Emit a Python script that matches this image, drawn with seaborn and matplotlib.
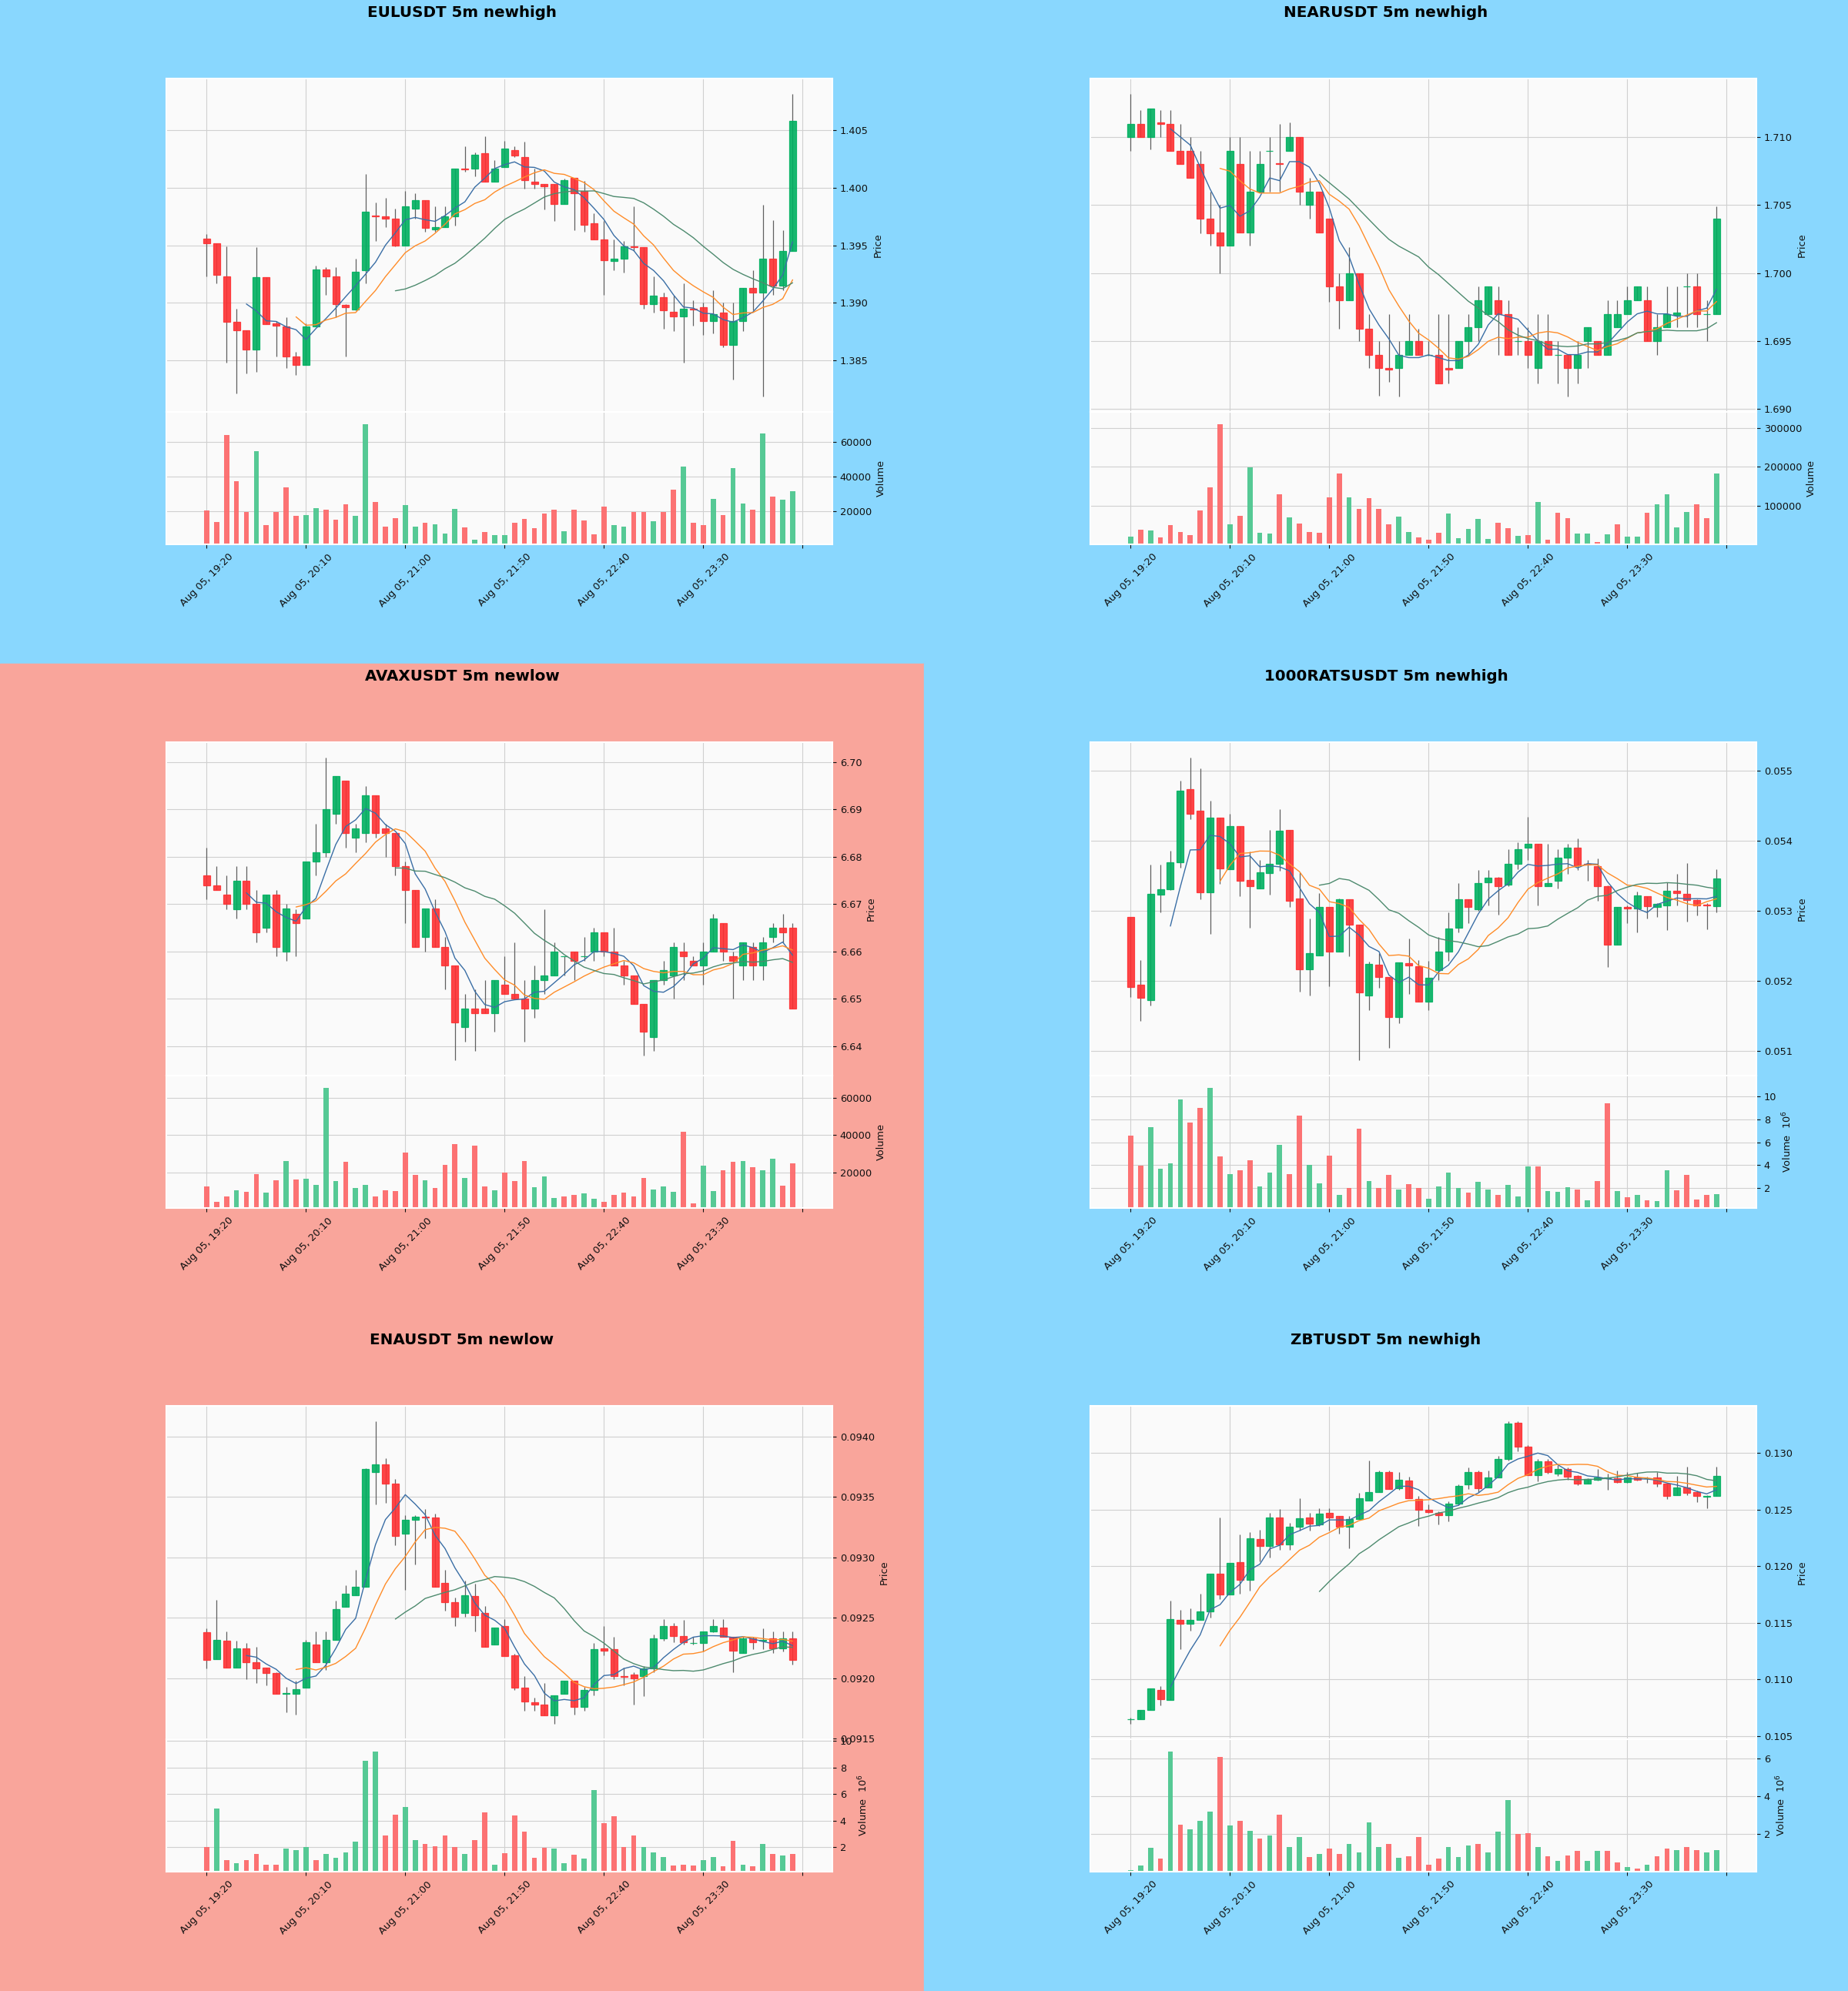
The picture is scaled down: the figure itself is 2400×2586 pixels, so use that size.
import matplotlib
matplotlib.use("Agg")
import numpy as np
import pandas as pd
import matplotlib.pyplot as plt
from matplotlib.patches import Rectangle
import seaborn as sns

# ---------------- data (5m candles, Aug 05 19:20 -> 00:15) ----------------
tick_labels = ['Aug 05, 19:20', 'Aug 05, 20:10', 'Aug 05, 21:00', 'Aug 05, 21:50',
               'Aug 05, 22:40', 'Aug 05, 23:30', '']

eul_open = [1.3956, 1.3952, 1.3923, 1.3883, 1.3876, 1.3859, 1.3922, 1.3882, 1.3879, 1.3853,
            1.3846, 1.3879, 1.3929, 1.3923, 1.3898, 1.3894, 1.3928, 1.3976, 1.3975, 1.3973,
            1.3950, 1.3982, 1.3989, 1.3964, 1.3966, 1.3975, 1.4017, 1.4017, 1.4030, 1.4005,
            1.4018, 1.4033, 1.4027, 1.4005, 1.4003, 1.4003, 1.3986, 1.4009, 1.3997, 1.3969,
            1.3955, 1.3936, 1.3938, 1.3949, 1.3948, 1.3899, 1.3905, 1.3892, 1.3888, 1.3895,
            1.3896, 1.3884, 1.3891, 1.3863, 1.3884, 1.3913, 1.3909, 1.3938, 1.3915, 1.3945]
eul_high = [1.3960, 1.3952, 1.3949, 1.3895, 1.3876, 1.3948, 1.3922, 1.3884, 1.3887, 1.3857,
            1.3882, 1.3932, 1.3931, 1.3931, 1.3899, 1.3938, 1.4012, 1.3987, 1.3991, 1.3982,
            1.3997, 1.3995, 1.3989, 1.3984, 1.3984, 1.4017, 1.4036, 1.4031, 1.4045, 1.4024,
            1.4041, 1.4036, 1.4040, 1.4017, 1.4003, 1.4003, 1.4008, 1.4009, 1.4006, 1.3978,
            1.3971, 1.3955, 1.3954, 1.3984, 1.3948, 1.3923, 1.3909, 1.3906, 1.3917, 1.3902,
            1.3900, 1.3911, 1.3900, 1.3900, 1.3913, 1.3928, 1.3985, 1.3972, 1.3963, 1.4082]
eul_low = [1.3923, 1.3917, 1.3848, 1.3821, 1.3838, 1.3840, 1.3881, 1.3853, 1.3843, 1.3837,
           1.3846, 1.3879, 1.3907, 1.3887, 1.3853, 1.3893, 1.3917, 1.3954, 1.3966, 1.3949,
           1.3950, 1.3973, 1.3962, 1.3962, 1.3966, 1.3967, 1.4014, 1.4010, 1.4005, 1.4005,
           1.4018, 1.4027, 1.3999, 1.3999, 1.3981, 1.3971, 1.3986, 1.3963, 1.3962, 1.3955,
           1.3907, 1.3928, 1.3926, 1.3945, 1.3895, 1.3891, 1.3877, 1.3875, 1.3848, 1.3880,
           1.3872, 1.3873, 1.3861, 1.3833, 1.3875, 1.3893, 1.3818, 1.3907, 1.3911, 1.3945]
eul_close = [1.3952, 1.3924, 1.3883, 1.3876, 1.3859, 1.3922, 1.3881, 1.3880, 1.3853, 1.3846,
             1.3879, 1.3929, 1.3923, 1.3899, 1.3896, 1.3927, 1.3979, 1.3975, 1.3973, 1.3950,
             1.3984, 1.3989, 1.3965, 1.3966, 1.3975, 1.4017, 1.4016, 1.4029, 1.4005, 1.4017,
             1.4034, 1.4028, 1.4007, 1.4003, 1.4001, 1.3986, 1.4007, 1.3995, 1.3968, 1.3955,
             1.3937, 1.3938, 1.3949, 1.3948, 1.3899, 1.3906, 1.3893, 1.3888, 1.3895, 1.3894,
             1.3884, 1.3890, 1.3863, 1.3884, 1.3913, 1.3909, 1.3938, 1.3915, 1.3945, 1.4058]
eul_volume = [20450, 13800, 64000, 37500, 19900, 54500, 12400, 19500, 33900, 17400,
              18100, 21700, 21000, 15100, 24200, 17400, 70100, 25300, 11500, 16300,
              23500, 11500, 13300, 12700, 7400, 21300, 10900, 3800, 8400, 6600,
              6600, 13300, 15600, 10600, 18700, 21000, 8800, 21000, 14700, 7000,
              22600, 12400, 11100, 19600, 19600, 14200, 19600, 32500, 45600, 13600,
              12000, 27300, 17800, 44700, 24400, 20800, 64800, 28500, 26700, 31600]

near_open = [1.7100, 1.7110, 1.7100, 1.7111, 1.7110, 1.7090, 1.7090, 1.7080, 1.7040, 1.7030,
             1.7020, 1.7080, 1.7030, 1.7060, 1.7090, 1.7081, 1.7090, 1.7100, 1.7050, 1.7060,
             1.7040, 1.6990, 1.6980, 1.7000, 1.6959, 1.6940, 1.6930, 1.6930, 1.6940, 1.6950,
             1.6940, 1.6940, 1.6930, 1.6930, 1.6950, 1.6960, 1.6970, 1.6980, 1.6970, 1.6950,
             1.6950, 1.6930, 1.6950, 1.6940, 1.6940, 1.6930, 1.6950, 1.6950, 1.6940, 1.6960,
             1.6970, 1.6980, 1.6980, 1.6950, 1.6960, 1.6969, 1.6990, 1.6990, 1.6970, 1.6970]
near_high = [1.7132, 1.7120, 1.7121, 1.7120, 1.7120, 1.7110, 1.7100, 1.7090, 1.7060, 1.7050,
             1.7100, 1.7100, 1.7090, 1.7090, 1.7100, 1.7110, 1.7111, 1.7100, 1.7070, 1.7060,
             1.7040, 1.7000, 1.7019, 1.7000, 1.6970, 1.6950, 1.6970, 1.6950, 1.6970, 1.6959,
             1.6950, 1.6970, 1.6970, 1.6950, 1.6970, 1.6990, 1.6990, 1.6990, 1.6980, 1.6960,
             1.6960, 1.6970, 1.6970, 1.6950, 1.6940, 1.6950, 1.6960, 1.6950, 1.6980, 1.6980,
             1.6990, 1.6990, 1.6990, 1.6970, 1.6990, 1.6990, 1.7000, 1.7000, 1.6980, 1.7049]
near_low = [1.7090, 1.7100, 1.7091, 1.7100, 1.7090, 1.7080, 1.7070, 1.7029, 1.7020, 1.7000,
            1.7020, 1.7030, 1.7020, 1.7060, 1.7060, 1.7060, 1.7090, 1.7050, 1.7040, 1.7030,
            1.6979, 1.6959, 1.6980, 1.6950, 1.6930, 1.6910, 1.6920, 1.6909, 1.6940, 1.6940,
            1.6939, 1.6919, 1.6919, 1.6930, 1.6940, 1.6950, 1.6970, 1.6940, 1.6940, 1.6940,
            1.6930, 1.6919, 1.6940, 1.6919, 1.6909, 1.6919, 1.6930, 1.6940, 1.6940, 1.6960,
            1.6970, 1.6980, 1.6950, 1.6940, 1.6960, 1.6960, 1.6960, 1.6960, 1.6950, 1.6970]
near_close = [1.7110, 1.7100, 1.7121, 1.7110, 1.7090, 1.7080, 1.7070, 1.7040, 1.7029, 1.7020,
              1.7090, 1.7030, 1.7060, 1.7080, 1.7090, 1.7080, 1.7100, 1.7060, 1.7060, 1.7030,
              1.6990, 1.6980, 1.7000, 1.6959, 1.6940, 1.6930, 1.6929, 1.6940, 1.6950, 1.6940,
              1.6940, 1.6919, 1.6929, 1.6950, 1.6960, 1.6980, 1.6990, 1.6970, 1.6940, 1.6950,
              1.6940, 1.6950, 1.6940, 1.6940, 1.6930, 1.6940, 1.6960, 1.6940, 1.6970, 1.6970,
              1.6980, 1.6990, 1.6950, 1.6960, 1.6970, 1.6971, 1.6990, 1.6970, 1.6970, 1.7040]
near_volume = [22400, 39200, 37600, 20000, 52000, 34400, 26400, 89600, 148000, 309600,
               54400, 76000, 198400, 31200, 29600, 130400, 70400, 56000, 34400, 32000,
               122400, 184000, 122400, 93600, 120000, 92000, 53600, 73600, 33600, 20000,
               13600, 32000, 81600, 18400, 41600, 68000, 16000, 57600, 44000, 24000,
               26400, 109600, 13600, 82400, 69600, 29600, 29600, 8000, 28000, 53600,
               21600, 21600, 82400, 104000, 130400, 46400, 84000, 105600, 69600, 182400]

avax_open = [6.676, 6.674, 6.672, 6.669, 6.675, 6.670, 6.665, 6.672, 6.660, 6.668,
             6.667, 6.679, 6.681, 6.689, 6.696, 6.684, 6.685, 6.693, 6.686, 6.685,
             6.678, 6.673, 6.663, 6.669, 6.661, 6.657, 6.644, 6.648, 6.648, 6.647,
             6.653, 6.651, 6.650, 6.648, 6.654, 6.655, 6.659, 6.660, 6.659, 6.660,
             6.664, 6.660, 6.657, 6.655, 6.649, 6.642, 6.654, 6.655, 6.660, 6.658,
             6.657, 6.660, 6.666, 6.659, 6.657, 6.661, 6.657, 6.663, 6.665, 6.665]
avax_high = [6.682, 6.678, 6.676, 6.678, 6.678, 6.673, 6.672, 6.673, 6.670, 6.669,
             6.679, 6.687, 6.701, 6.697, 6.696, 6.687, 6.695, 6.693, 6.687, 6.685,
             6.679, 6.673, 6.669, 6.671, 6.663, 6.657, 6.651, 6.652, 6.654, 6.654,
             6.659, 6.662, 6.654, 6.657, 6.669, 6.662, 6.659, 6.660, 6.663, 6.665,
             6.664, 6.665, 6.658, 6.655, 6.649, 6.654, 6.658, 6.662, 6.662, 6.659,
             6.662, 6.668, 6.666, 6.660, 6.662, 6.662, 6.663, 6.666, 6.668, 6.666]
avax_low = [6.671, 6.673, 6.669, 6.667, 6.669, 6.662, 6.664, 6.659, 6.658, 6.659,
            6.667, 6.676, 6.680, 6.687, 6.682, 6.681, 6.683, 6.684, 6.680, 6.676,
            6.666, 6.661, 6.660, 6.661, 6.652, 6.637, 6.641, 6.639, 6.647, 6.643,
            6.651, 6.650, 6.641, 6.646, 6.651, 6.655, 6.655, 6.654, 6.658, 6.658,
            6.659, 6.657, 6.653, 6.649, 6.638, 6.639, 6.653, 6.650, 6.654, 6.657,
            6.653, 6.660, 6.658, 6.650, 6.654, 6.654, 6.654, 6.662, 6.662, 6.648]
avax_close = [6.674, 6.673, 6.670, 6.675, 6.670, 6.664, 6.672, 6.661, 6.669, 6.666,
              6.679, 6.681, 6.690, 6.697, 6.685, 6.686, 6.693, 6.685, 6.685, 6.678,
              6.673, 6.661, 6.669, 6.661, 6.657, 6.645, 6.648, 6.647, 6.647, 6.654,
              6.651, 6.650, 6.648, 6.654, 6.655, 6.660, 6.659, 6.658, 6.659, 6.664,
              6.660, 6.657, 6.655, 6.649, 6.643, 6.654, 6.656, 6.661, 6.659, 6.657,
              6.660, 6.667, 6.660, 6.658, 6.662, 6.657, 6.662, 6.665, 6.664, 6.648]
avax_volume = [12500, 4200, 7200, 10500, 9700, 19200, 9300, 15800, 26000, 16300,
               16800, 13500, 65200, 15500, 25500, 11700, 13500, 7200, 10500, 10000,
               30800, 18500, 15800, 11700, 24200, 35000, 17200, 34200, 12500, 10500,
               20000, 15200, 26000, 12200, 18000, 6300, 7200, 8000, 8800, 5800,
               4200, 8000, 9200, 7200, 17200, 11000, 12500, 9700, 41700, 3300,
               23500, 10200, 21300, 25500, 26000, 22700, 21300, 27500, 13000, 24700]

rats_open = [0.052917, 0.051947, 0.051722, 0.053232, 0.053309, 0.053692, 0.054743, 0.054427, 0.053264, 0.054328,
             0.053593, 0.054211, 0.053444, 0.053323, 0.053539, 0.053670, 0.054157, 0.053174, 0.052164, 0.052367,
             0.053052, 0.052421, 0.053165, 0.052804, 0.051790, 0.052227, 0.052060, 0.051487, 0.052250, 0.052209,
             0.051699, 0.052150, 0.052421, 0.052759, 0.053165, 0.053021, 0.053413, 0.053471, 0.053381, 0.053670,
             0.053900, 0.053954, 0.053354, 0.053426, 0.053760, 0.053909, 0.053670, 0.053638, 0.053354, 0.052520,
             0.053052, 0.053030, 0.053210, 0.053052, 0.053075, 0.053287, 0.053241, 0.053156, 0.053093, 0.053066]
rats_high = [0.052917, 0.052299, 0.053661, 0.053661, 0.053864, 0.054856, 0.055194, 0.055036, 0.054572, 0.054328,
             0.054391, 0.054211, 0.053850, 0.053728, 0.054157, 0.054450, 0.054157, 0.053548, 0.052894, 0.053255,
             0.053052, 0.053174, 0.053165, 0.052804, 0.052272, 0.052398, 0.052060, 0.052263, 0.052601, 0.052299,
             0.052286, 0.052624, 0.052976, 0.053399, 0.053165, 0.053580, 0.053580, 0.053489, 0.053877, 0.053976,
             0.054346, 0.053963, 0.053954, 0.053877, 0.053954, 0.054031, 0.053728, 0.053751, 0.053368, 0.053052,
             0.053075, 0.053278, 0.053210, 0.053111, 0.053413, 0.053525, 0.053683, 0.053165, 0.053111, 0.053593]
rats_low = [0.051767, 0.051429, 0.051654, 0.052985, 0.053300, 0.053616, 0.054315, 0.053165, 0.052669, 0.053390,
            0.053593, 0.053210, 0.052759, 0.053323, 0.053232, 0.053571, 0.053052, 0.051848, 0.051790, 0.052367,
            0.051925, 0.052421, 0.052353, 0.050865, 0.051587, 0.051902, 0.051046, 0.051397, 0.051812, 0.051699,
            0.051587, 0.052015, 0.052286, 0.052691, 0.052827, 0.053007, 0.053084, 0.052948, 0.053354, 0.053593,
            0.053728, 0.053084, 0.053354, 0.053323, 0.053525, 0.053580, 0.053426, 0.053142, 0.052195, 0.052520,
            0.052827, 0.052691, 0.052894, 0.052917, 0.052723, 0.053075, 0.052849, 0.052939, 0.052736, 0.052985]
rats_close = [0.051916, 0.051754, 0.053246, 0.053309, 0.053692, 0.054720, 0.054391, 0.053264, 0.054337, 0.053602,
              0.054215, 0.053435, 0.053354, 0.053548, 0.053670, 0.054143, 0.053142, 0.052164, 0.052398, 0.053052,
              0.052421, 0.053165, 0.052804, 0.051835, 0.052241, 0.052060, 0.051487, 0.052263, 0.052218, 0.051699,
              0.052047, 0.052421, 0.052750, 0.053165, 0.053052, 0.053399, 0.053471, 0.053354, 0.053670, 0.053877,
              0.053954, 0.053354, 0.053399, 0.053760, 0.053909, 0.053652, 0.053661, 0.053354, 0.052520, 0.053052,
              0.053030, 0.053219, 0.053066, 0.053097, 0.053287, 0.053255, 0.053156, 0.053084, 0.053080, 0.053467]
rats_volume = [6550000, 3950000, 7290000, 3670000, 4160000, 9700000, 7730000, 9010000, 10740000, 4770000,
               3210000, 3530000, 4440000, 2110000, 3340000, 5780000, 3180000, 8330000, 4000000, 2380000,
               4850000, 1400000, 2030000, 7180000, 2630000, 1970000, 3120000, 1890000, 2360000, 2030000,
               1070000, 2160000, 3340000, 2030000, 1620000, 2520000, 1890000, 1400000, 2250000, 1290000,
               3890000, 3890000, 1750000, 1670000, 2080000, 1840000, 930000, 2580000, 9420000, 1700000,
               1210000, 1420000, 930000, 850000, 3530000, 1810000, 3120000, 1010000, 1400000, 1480000]

ena_open = [0.09238, 0.09216, 0.09231, 0.09209, 0.09225, 0.09213, 0.09209, 0.09204, 0.09187, 0.09187,
            0.09192, 0.09228, 0.09213, 0.09232, 0.09259, 0.09269, 0.09276, 0.09371, 0.09377, 0.09361,
            0.09320, 0.09331, 0.09334, 0.09333, 0.09279, 0.09263, 0.09254, 0.09268, 0.09254, 0.09228,
            0.09243, 0.09219, 0.09192, 0.09180, 0.09178, 0.09169, 0.09187, 0.09198, 0.09176, 0.09190,
            0.09225, 0.09224, 0.09202, 0.09203, 0.09202, 0.09208, 0.09233, 0.09243, 0.09235, 0.09229,
            0.09229, 0.09239, 0.09242, 0.09234, 0.09221, 0.09233, 0.09231, 0.09233, 0.09225, 0.09233]
ena_high = [0.09241, 0.09265, 0.09239, 0.09231, 0.09229, 0.09226, 0.09209, 0.09205, 0.09193, 0.09198,
            0.09232, 0.09239, 0.09239, 0.09264, 0.09277, 0.09290, 0.09374, 0.09413, 0.09382, 0.09365,
            0.09335, 0.09335, 0.09340, 0.09336, 0.09290, 0.09267, 0.09281, 0.09278, 0.09260, 0.09242,
            0.09249, 0.09220, 0.09202, 0.09184, 0.09196, 0.09186, 0.09198, 0.09198, 0.09193, 0.09229,
            0.09243, 0.09234, 0.09209, 0.09205, 0.09210, 0.09236, 0.09249, 0.09246, 0.09248, 0.09234,
            0.09239, 0.09249, 0.09249, 0.09234, 0.09234, 0.09234, 0.09241, 0.09239, 0.09239, 0.09239]
ena_low = [0.09208, 0.09216, 0.09209, 0.09209, 0.09199, 0.09196, 0.09194, 0.09187, 0.09172, 0.09170,
           0.09192, 0.09213, 0.09207, 0.09232, 0.09259, 0.09269, 0.09276, 0.09344, 0.09345, 0.09310,
           0.09273, 0.09294, 0.09316, 0.09276, 0.09256, 0.09243, 0.09251, 0.09239, 0.09226, 0.09228,
           0.09218, 0.09190, 0.09173, 0.09173, 0.09169, 0.09162, 0.09187, 0.09170, 0.09173, 0.09186,
           0.09219, 0.09199, 0.09194, 0.09178, 0.09185, 0.09205, 0.09231, 0.09230, 0.09228, 0.09228,
           0.09222, 0.09238, 0.09234, 0.09205, 0.09221, 0.09224, 0.09224, 0.09221, 0.09222, 0.09211]
ena_close = [0.09215, 0.09232, 0.09209, 0.09225, 0.09213, 0.09208, 0.09204, 0.09187, 0.09188, 0.09191,
             0.09230, 0.09213, 0.09232, 0.09257, 0.09270, 0.09276, 0.09373, 0.09377, 0.09361, 0.09318,
             0.09331, 0.09334, 0.09333, 0.09276, 0.09263, 0.09251, 0.09269, 0.09252, 0.09226, 0.09242,
             0.09218, 0.09192, 0.09181, 0.09178, 0.09169, 0.09186, 0.09198, 0.09176, 0.09190, 0.09224,
             0.09223, 0.09202, 0.09201, 0.09200, 0.09208, 0.09233, 0.09243, 0.09235, 0.09230, 0.09229,
             0.09239, 0.09243, 0.09234, 0.09223, 0.09233, 0.09230, 0.09232, 0.09225, 0.09233, 0.09215]
ena_volume = [2000000, 4940000, 1040000, 800000, 1060000, 1510000, 680000, 710000, 1880000, 1810000,
              2050000, 1060000, 1510000, 1220000, 1620000, 2450000, 8520000, 9220000, 2870000, 4450000,
              5040000, 2560000, 2280000, 2090000, 2920000, 2000000, 1530000, 2560000, 4640000, 710000,
              1580000, 4400000, 3180000, 1220000, 1980000, 1880000, 800000, 1460000, 1150000, 6330000,
              3810000, 4330000, 2050000, 2870000, 2000000, 1620000, 1270000, 640000, 710000, 640000,
              1060000, 1270000, 590000, 2470000, 680000, 560000, 2280000, 1510000, 1390000, 1510000]

zbt_open = [0.10646, 0.10648, 0.10732, 0.10906, 0.10816, 0.11525, 0.11488, 0.11525, 0.11600, 0.11936,
            0.11749, 0.12034, 0.11880, 0.12236, 0.12180, 0.12432, 0.12188, 0.12348, 0.12426, 0.12370,
            0.12468, 0.12440, 0.12348, 0.12412, 0.12580, 0.12656, 0.12832, 0.12684, 0.12756, 0.12594,
            0.12496, 0.12468, 0.12448, 0.12552, 0.12720, 0.12832, 0.12692, 0.12784, 0.12944, 0.13266,
            0.13056, 0.12804, 0.12924, 0.12818, 0.12860, 0.12796, 0.12729, 0.12762, 0.12773, 0.12776,
            0.12740, 0.12784, 0.12773, 0.12784, 0.12729, 0.12628, 0.12692, 0.12650, 0.12614, 0.12616]
zbt_high = [0.10662, 0.10732, 0.10920, 0.10942, 0.11698, 0.11614, 0.11628, 0.11754, 0.11936, 0.12432,
            0.12029, 0.12280, 0.12300, 0.12320, 0.12468, 0.12504, 0.12384, 0.12600, 0.12468, 0.12510,
            0.12510, 0.12440, 0.12440, 0.12644, 0.12930, 0.12846, 0.12840, 0.12832, 0.12790, 0.12622,
            0.12544, 0.12482, 0.12572, 0.12720, 0.12868, 0.12846, 0.12846, 0.12972, 0.13280, 0.13280,
            0.13070, 0.12944, 0.12944, 0.12888, 0.12868, 0.12804, 0.12776, 0.12860, 0.12818, 0.12846,
            0.12832, 0.12824, 0.12790, 0.12832, 0.12734, 0.12796, 0.12880, 0.12664, 0.12628, 0.12880]
zbt_low = [0.10606, 0.10648, 0.10732, 0.10774, 0.10816, 0.11264, 0.11432, 0.11525, 0.11544, 0.11712,
           0.11749, 0.11754, 0.11782, 0.12040, 0.12076, 0.12146, 0.12141, 0.12314, 0.12314, 0.12356,
           0.12314, 0.12286, 0.12160, 0.12412, 0.12580, 0.12656, 0.12678, 0.12672, 0.12600, 0.12356,
           0.12468, 0.12365, 0.12398, 0.12538, 0.12678, 0.12650, 0.12692, 0.12784, 0.12930, 0.13014,
           0.12804, 0.12748, 0.12818, 0.12796, 0.12762, 0.12712, 0.12729, 0.12756, 0.12672, 0.12734,
           0.12734, 0.12756, 0.12734, 0.12700, 0.12594, 0.12628, 0.12628, 0.12566, 0.12510, 0.12616]
zbt_close = [0.10651, 0.10732, 0.10920, 0.10825, 0.11530, 0.11488, 0.11525, 0.11600, 0.11936, 0.11749,
             0.12029, 0.11880, 0.12244, 0.12180, 0.12426, 0.12188, 0.12348, 0.12421, 0.12376, 0.12460,
             0.12432, 0.12348, 0.12412, 0.12600, 0.12650, 0.12832, 0.12678, 0.12762, 0.12600, 0.12496,
             0.12477, 0.12448, 0.12552, 0.12706, 0.12832, 0.12684, 0.12782, 0.12944, 0.13260, 0.13056,
             0.12804, 0.12922, 0.12832, 0.12860, 0.12790, 0.12729, 0.12768, 0.12784, 0.12779, 0.12740,
             0.12784, 0.12762, 0.12776, 0.12729, 0.12616, 0.12692, 0.12644, 0.12616, 0.12619, 0.12796]
zbt_volume = [100000, 370000, 1280000, 700000, 6370000, 2510000, 2270000, 2690000, 3190000, 6090000,
              2470000, 2720000, 2170000, 1780000, 1940000, 3050000, 1310000, 1840000, 810000, 980000,
              1230000, 980000, 1480000, 1060000, 2610000, 1310000, 1510000, 780000, 860000, 1840000,
              400000, 700000, 1310000, 810000, 1390000, 1480000, 1060000, 2140000, 3800000, 2010000,
              2060000, 1310000, 860000, 610000, 900000, 1110000, 610000, 1110000, 1110000, 530000,
              270000, 180000, 400000, 860000, 1230000, 1180000, 1340000, 1180000, 1030000, 1150000]

panels = [
    ('EULUSDT 5m newhigh', 'newhigh', eul_open, eul_high, eul_low, eul_close, eul_volume),
    ('NEARUSDT 5m newhigh', 'newhigh', near_open, near_high, near_low, near_close, near_volume),
    ('AVAXUSDT 5m newlow', 'newlow', avax_open, avax_high, avax_low, avax_close, avax_volume),
    ('1000RATSUSDT 5m newhigh', 'newhigh', rats_open, rats_high, rats_low, rats_close, rats_volume),
    ('ENAUSDT 5m newlow', 'newlow', ena_open, ena_high, ena_low, ena_close, ena_volume),
    ('ZBTUSDT 5m newhigh', 'newhigh', zbt_open, zbt_high, zbt_low, zbt_close, zbt_volume),
]

# ---------------- style ----------------
FIG_W, FIG_H = 2400, 2586
CELL_W, CELL_H = 1200, 862
BG = {'newhigh': '#89d7fe', 'newlow': '#f9a59b'}
UP, DOWN = '#00b060', '#fe3032'
VUP, VDOWN = '#4dc790', '#fd6b6c'
WICK = '#606060'
MAV = [(5, '#3a6ea5'), (10, '#ff8c28'), (20, '#4d8a6e')]
FS = 9.3

sns.set_theme(style='white')
plt.rcParams['font.family'] = ['DejaVu Sans']
plt.rcParams['axes.unicode_minus'] = False


def fig_box(left, top, width, height):
    # pixel box (top-left origin) -> figure fraction
    return [left / FIG_W, 1 - (top + height) / FIG_H, width / FIG_W, height / FIG_H]


fig = plt.figure(figsize=(FIG_W / 100, FIG_H / 100), dpi=100)

for k, (title, kind, o, h, l, c, v) in enumerate(panels):
    row, col = divmod(k, 2)
    cx, cy = col * CELL_W, row * CELL_H

    fig.add_artist(Rectangle((cx / FIG_W, 1 - (cy + CELL_H) / FIG_H), CELL_W / FIG_W, CELL_H / FIG_H,
                             transform=fig.transFigure, color=BG[kind], zorder=-5))
    fig.text((cx + 600) / FIG_W, 1 - (cy + 17) / FIG_H, title, ha='center', va='center',
             fontsize=14.3, fontweight='bold', color='black')

    ax = fig.add_axes(fig_box(cx + 216, cy + 102, 865, 433))
    axv = fig.add_axes(fig_box(cx + 216, cy + 535, 865, 172))

    o, h, l, c, v = map(np.asarray, (o, h, l, c, v))
    x = np.arange(len(c))
    df = pd.DataFrame({'i': x, 'open': o, 'high': h, 'low': l, 'close': c, 'volume': v})

    # candles
    body_col = np.where(c >= o, UP, DOWN)
    ax.vlines(x, l, h, color=WICK, linewidth=0.9, zorder=2)
    ax.bar(x, np.abs(c - o), bottom=np.minimum(o, c), width=0.7, color=body_col,
           edgecolor=body_col, linewidth=0.9, alpha=0.9, zorder=3)

    # moving averages
    for win, mcol in MAV:
        ma = df[['i']].assign(ma=df['close'].rolling(win).mean()).dropna()
        sns.lineplot(data=ma, x='i', y='ma', ax=ax, color=mcol, linewidth=1.0, zorder=4)

    rng = h.max() - l.min()
    ax.set_ylim(l.min() - 0.05 * rng, h.max() + 0.05 * rng)

    # volume, coloured by close vs previous close
    prev = np.r_[o[0], c[:-1]]
    df['dir'] = np.where(c > prev, 'up', 'down')
    big = df['volume'].max() >= 1e6
    df['vol_plot'] = df['volume'] / 1e6 if big else df['volume']
    sns.barplot(data=df, x='i', y='vol_plot', hue='dir', palette={'up': VUP, 'down': VDOWN},
                native_scale=True, dodge=False, width=0.52, saturation=1, errorbar=None,
                legend=False, linewidth=0, alpha=0.95, ax=axv)
    axv.set_ylim(0.3 * df['vol_plot'].min(), 1.1 * df['vol_plot'].max())

    for a in (ax, axv):
        a.set_facecolor('#fafafa')
        a.set_xlim(-4.06, 63.0)
        a.set_xticks(range(0, 61, 10))
        a.grid(True, color='#d0d0d0', linewidth=0.8, linestyle='-')
        a.set_axisbelow(True)
        for s in a.spines.values():
            s.set_color('white')
            s.set_linewidth(1.5)
        a.yaxis.tick_right()
        a.yaxis.set_label_position('right')
        a.tick_params(axis='y', right=True, left=False, labelright=True, labelleft=False,
                      length=3.5, width=0.8, colors='#101010', labelsize=FS)
        a.set_xlabel('')

    ax.tick_params(axis='x', bottom=False, labelbottom=False)
    axv.tick_params(axis='x', bottom=True, length=3.5, width=0.8, colors='#101010', labelsize=FS)
    axv.set_xticklabels(tick_labels, rotation=45, ha='center')

    ax.set_ylabel('Price', fontsize=FS, color='#101010')
    axv.set_ylabel('Volume  $10^{6}$' if big else 'Volume', fontsize=FS, color='#101010')

fig.savefig('out.png', dpi=100)
